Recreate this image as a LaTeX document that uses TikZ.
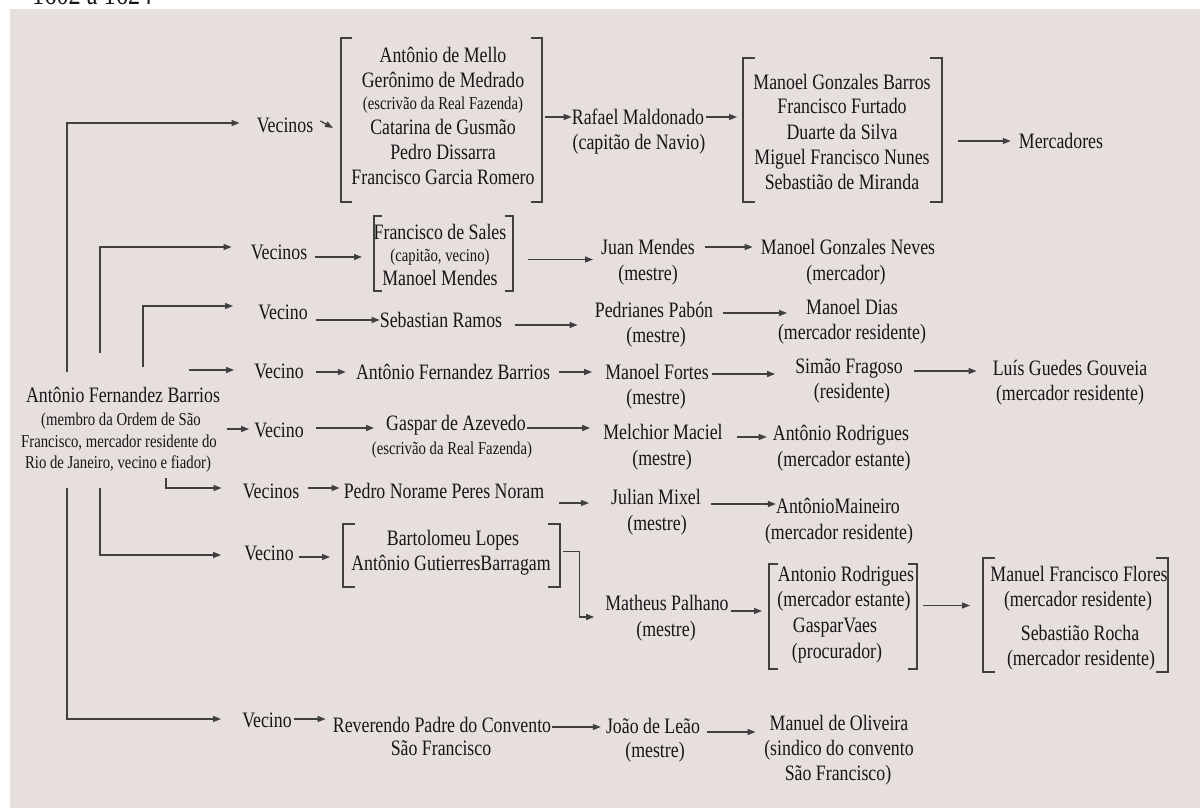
\documentclass[tikz,border=0pt]{standalone}
\usepackage{fontspec}
\setmainfont{Liberation Serif}[FakeStretch=0.81]
\usetikzlibrary{arrows.meta,calc}

\definecolor{paper}{RGB}{230,223,221}
\definecolor{ink}{RGB}{22,22,22}
\definecolor{wirec}{RGB}{64,64,64}

\newcommand\bigtxt{\fontsize{22}{25}\selectfont}
\newcommand\smltxt{\fontsize{18.2}{21}\selectfont}

% square bracket on both sides of an invisible frame node
\newcommand\bracketed[2]{%
  \draw[brk] ($(#1.north west)+(#2,0)$) -- (#1.north west) -- (#1.south west) -- ++(#2,0);
  \draw[brk] ($(#1.north east)+(-#2,0)$) -- (#1.north east) -- (#1.south east) -- ++(-#2,0);}

\tikzset{
  pname/.style={inner sep=0pt, text=ink, font=\bigtxt, text height=15.4pt, text depth=0.9pt},
  pnote/.style={inner sep=0pt, text=ink, font=\smltxt, text height=12.8pt, text depth=0.8pt},
  bframe/.style={inner sep=0pt, outer sep=0pt},
  conn/.style={draw=wirec, line width=1.3pt, -{Triangle[length=8pt,width=6pt]}},
  brk/.style={draw=wirec, line width=1.2pt},
}

\begin{document}
\begin{tikzpicture}[x=1pt, y=-1pt]
\useasboundingbox (0,0) rectangle (1200,808);
\fill[paper] (10,9) rectangle (1200,808);
\node[anchor=base west, inner sep=0pt, text=ink, font=\fontsize{30}{30}\selectfont] (yr) at (32,5) {1602 a 1624};

% root
\node[pname] (root) at (123,395) {Antônio Fernandez Barrios};
\node[pnote] (root-a) at (121,419) {(membro da Ordem de São};
\node[pnote] (root-b) at (119,441) {Francisco, mercador residente do};
\node[pnote] (root-c) at (118,462) {Rio de Janeiro, vecino e fiador)};

% trunk ends
\coordinate (tA) at (67,372);
\coordinate (tB) at (100,353);
\coordinate (tC) at (143,367);
\coordinate (tD) at (189,370);
\coordinate (tE) at (227,429);
\coordinate (tF) at (166,478);
\coordinate (tG) at (100,488);
\coordinate (tH) at (67,488);

% first column
\node[pname] (v1) at (285,125) {Vecinos};
\node[pname] (v2) at (279,252) {Vecinos};
\node[pname] (v3) at (283,312) {Vecino};
\node[pname] (v4) at (279,371) {Vecino};
\node[pname] (v5) at (279,430) {Vecino};
\node[pname] (v6) at (271,491) {Vecinos};
\node[pname] (v7) at (269,553) {Vecino};
\node[pname] (v8) at (267,720) {Vecino};

% group 1
\node[bframe, minimum width=201pt, minimum height=164pt] (b1) at (441.5,120) {};
\node[pname] (b1-1) at (443,55) {Antônio de Mello};
\node[pname] (b1-2) at (443,80) {Gerônimo de Medrado};
\node[pnote] (b1-3) at (443,104) {(escrivão da Real Fazenda)};
\node[pname] (b1-4) at (443,127) {Catarina de Gusmão};
\node[pname] (b1-5) at (443,152) {Pedro Dissarra};
\node[pname] (b1-6) at (443,177) {Francisco Garcia Romero};

\node[pname] (raf) at (638,117) {Rafael Maldonado};
\node[pname] (raf-r) at (639,142) {(capitão de Navio)};

\node[bframe, minimum width=199pt, minimum height=144pt] (b3) at (842.5,130) {};
\node[pname] (b3-1) at (842,82) {Manoel Gonzales Barros};
\node[pname] (b3-2) at (842,106) {Francisco Furtado};
\node[pname] (b3-3) at (842,132) {Duarte da Silva};
\node[pname] (b3-4) at (842,157) {Miguel Francisco Nunes};
\node[pname] (b3-5) at (842,182) {Sebastião de Miranda};

\node[pname] (merc) at (1061,141) {Mercadores};

% group 2
\node[bframe, minimum width=139pt, minimum height=75pt] (b2) at (443.5,253.5) {};
\node[pname] (b2-1) at (440,232) {Francisco de Sales};
\node[pnote] (b2-2) at (440,255) {(capitão, vecino)};
\node[pname] (b2-3) at (440,278) {Manoel Mendes};

\node[pname] (juan) at (648,247) {Juan Mendes};
\node[pname] (juan-r) at (648,273) {(mestre)};
\node[pname] (mgn) at (848,247) {Manoel Gonzales Neves};
\node[pname] (mgn-r) at (846,273) {(mercador)};

% Sebastian Ramos
\node[pname] (seb) at (441,320) {Sebastian Ramos};
\node[pname] (ped) at (654,310) {Pedrianes Pabón};
\node[pname] (ped-r) at (656,335) {(mestre)};
\node[pname] (mdias) at (852,307) {Manoel Dias};
\node[pname] (mdias-r) at (852,332) {(mercador residente)};

% Antônio Fernandez Barrios
\node[pname] (afb) at (453,372) {Antônio Fernandez Barrios};
\node[pname] (fortes) at (657,372) {Manoel Fortes};
\node[pname] (fortes-r) at (656,397) {(mestre)};
\node[pname] (simao) at (849,366) {Simão Fragoso};
\node[pname] (simao-r) at (852,391) {(residente)};
\node[pname] (luis) at (1070,368) {Luís Guedes Gouveia};
\node[pname] (luis-r) at (1070,393) {(mercador residente)};

% Gaspar de Azevedo
\node[pname] (gasp) at (456,423) {Gaspar de Azevedo};
\node[pnote] (gasp-r) at (452,448) {(escrivão da Real Fazenda)};
\node[pname] (melc) at (663,432) {Melchior Maciel};
\node[pname] (melc-r) at (662,458) {(mestre)};
\node[pname] (arod) at (841,433) {Antônio Rodrigues};
\node[pname] (arod-r) at (844,459) {(mercador estante)};

% Pedro Norame
\node[pname] (pedro) at (444,491) {Pedro Norame Peres Noram};
\node[pname] (jul) at (656,497) {Julian Mixel};
\node[pname] (jul-r) at (657,523) {(mestre)};
\node[pname] (main) at (838,506) {AntônioMaineiro};
\node[pname] (main-r) at (839,532) {(mercador residente)};

% group 6
\node[bframe, minimum width=217pt, minimum height=63pt] (b6) at (451.5,555.5) {};
\node[pname] (b6-1) at (453,538) {Bartolomeu Lopes};
\node[pname] (b6-2) at (451,563) {Antônio GutierresBarragam};

\node[pname] (mat) at (667,603) {Matheus Palhano};
\node[pname] (mat-r) at (666,629) {(mestre)};

\node[bframe, minimum width=148pt, minimum height=105pt] (b7) at (843,616.5) {};
\node[pname] (b7-1) at (846,574) {Antonio Rodrigues};
\node[pname] (b7-2) at (844,599) {(mercador estante)};
\node[pname] (b7-3) at (835,625) {GasparVaes};
\node[pname] (b7-4) at (837,651) {(procurador)};

\node[bframe, minimum width=185pt, minimum height=114pt] (b8) at (1075.5,615) {};
\node[pname] (b8-1) at (1079,574) {Manuel Francisco Flores};
\node[pname] (b8-2) at (1078,599) {(mercador residente)};
\node[pname] (b8-3) at (1080,633) {Sebastião Rocha};
\node[pname] (b8-4) at (1081,658) {(mercador residente)};

% Reverendo
\node[pname] (rev) at (442,725) {Reverendo Padre do Convento};
\node[pname] (rev-r) at (441,748) {São Francisco};
\node[pname] (joao) at (653,726) {João de Leão};
\node[pname] (joao-r) at (655,750) {(mestre)};
\node[pname] (oliv) at (839,723) {Manuel de Oliveira};
\node[pname] (oliv-a) at (839,748) {(sindico do convento};
\node[pname] (oliv-b) at (838,773) {São Francisco)};

% brackets
\bracketed{b1}{11}
\bracketed{b3}{12}
\bracketed{b2}{8}
\bracketed{b6}{12}
\bracketed{b7}{9}
\bracketed{b8}{12}

% trunk connectors
\draw[conn] (tA) |- ($(v1.west)+(-17,-2)$);
\draw[conn] (tB) |- ($(v2.west)+(-19,-5)$);
\draw[conn] (tC) |- ($(v3.west)+(-25,-6)$);
\draw[conn] (tD) -- ($(tD -| v4.west)+(-20,0)$);
\draw[conn] (tE) -- ($(tE -| v5.west)+(-5,0)$);
\draw[conn] (tF) |- ($(v6.west)+(-21,-3)$);
\draw[conn] (tG) |- ($(v7.west)+(-23,2)$);
\draw[conn] (tH) |- ($(v8.west)+(-21,-1)$);

% row connectors
\draw[conn] ($(v1.east)+(7,-4)$) -- ($(b1.west)+(-8,8)$);
\draw[conn] ($(b1.east)+(3,-3)$) -- ($(b1.east -| raf.west)+(0,-3)$);
\draw[conn] ($(raf.east)+(2,0)$) -- ($(raf.east -| b3.west)+(-6,0)$);
\draw[conn] ($(b3.east)+(16,11)$) -- ($(b3.east -| merc.west)+(-8,11)$);

\draw[conn] ($(v2.east)+(8,5)$) -- ($(v2.east -| b2.west)+(-12,5)$);
\draw[conn] ($(b2.east)+(15,6)$) -- ($(b2.east -| juan.west)+(-8,6)$);
\draw[conn] ($(juan.east)+(10,0)$) -- ($(juan.east -| mgn.west)+(-8,0)$);

\draw[conn] ($(v3.east)+(8,8)$) -- ($(v3.east -| seb.west)+(0,8)$);
\draw[conn] ($(seb.east)+(13,5)$) -- ($(seb.east -| ped.west)+(-17,5)$);
\draw[conn] ($(ped.east)+(10,3)$) -- ($(ped.east -| mdias.west)+(-19,3)$);

\draw[conn] ($(v4.east)+(12,1)$) -- ($(v4.east -| afb.west)+(-10,1)$);
\draw[conn] ($(afb.east)+(9,0)$) -- ($(afb.east -| fortes.west)+(-13,0)$);
\draw[conn] ($(fortes.east)+(3,2)$) -- ($(fortes.east -| simao.west)+(-20,2)$);
\draw[conn] ($(simao.east)+(11,5)$) -- ($(simao.east -| luis.west)+(-16,5)$);

\draw[conn] ($(v5.east)+(12,-2)$) -- ($(v5.east -| gasp.west)+(-12,-2)$);
\draw[conn] ($(gasp.east)+(1,5)$) -- ($(gasp.east -| melc.west)+(-13,5)$);
\draw[conn] ($(melc.east)+(14,5)$) -- ($(melc.east -| arod.west)+(-6,5)$);

\draw[conn] ($(v6.east)+(9,-3)$) -- ($(v6.east -| pedro.west)+(-4,-3)$);
\draw[conn] ($(pedro.east)+(15,12)$) -- ($(pedro.east -| jul.west)+(-22,12)$);
\draw[conn] ($(jul.east)+(10,7)$) -- ($(jul.east -| main.west)+(0,7)$);

\draw[conn] ($(v7.east)+(5,4)$) -- ($(v7.east -| b6.west)+(-13,4)$);
\draw[conn] ($(b6.east)+(3,-4)$) -| ($(mat.west)+(-26,14)$) -- ($(mat.west)+(-11,14)$);
\draw[conn] ($(mat.east)+(2,8)$) -- ($(mat.east -| b7.west)+(-7,8)$);
\draw[conn] ($(b7.east)+(6,-11)$) -- ($(b7.east -| b8.west)+(-13,-11)$);

\draw[conn] ($(v8.east)+(2,-1)$) -- ($(v8.east -| rev.west)+(-7,-1)$);
\draw[conn] ($(rev.east)+(1,2)$) -- ($(rev.east -| joao.west)+(-5,2)$);
\draw[conn] ($(joao.east)+(7,6)$) -- ($(joao.east -| oliv.west)+(-14,6)$);
\end{tikzpicture}
\end{document}
